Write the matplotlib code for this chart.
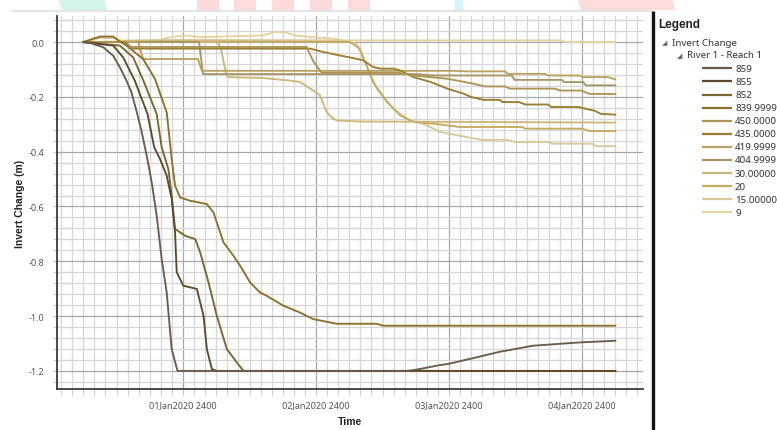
import matplotlib

matplotlib.use("Agg")
import matplotlib.pyplot as plt
from matplotlib.patches import Polygon, Rectangle
from matplotlib.ticker import FixedLocator, MultipleLocator, FixedFormatter

# hours since 01Jan2020 0000 / invert change (m)
t_859 = [6, 7.5, 9.6, 11.4, 12.6, 13.8, 14.7, 15.6, 16.5, 17.4, 18.35, 19.25, 20.15, 21.05, 21.95, 23.0,
         64.4, 66, 68, 70, 72.2, 76, 81.2, 87.2, 95.6, 102]
v_859 = [0, -0.005, -0.019, -0.05, -0.092, -0.141, -0.184, -0.251, -0.324, -0.41, -0.512, -0.634, -0.792,
         -0.913, -1.12, -1.2, -1.2, -1.196, -1.188, -1.18, -1.173, -1.155, -1.13, -1.108, -1.096, -1.09]

t_855 = [6, 11.4, 13.2, 15.3, 17.6, 18.8, 19.85, 21.06, 21.96, 22.56, 22.86, 24.05, 26.5, 27.7, 28.3, 29.2,
         30.1, 102]
v_855 = [0, -0.013, -0.056, -0.141, -0.263, -0.384, -0.427, -0.488, -0.573, -0.695, -0.84, -0.889, -0.901,
         -0.999, -1.12, -1.193, -1.2, -1.2]

t_852 = [6, 12.6, 15.0, 16.85, 19.25, 20.15, 21.35, 21.96, 22.56, 24.4, 26.2, 27.1, 28.6, 30.1, 31.9, 33.7,
         34.9, 102]
v_852 = [0, -0.013, -0.056, -0.141, -0.263, -0.384, -0.463, -0.561, -0.682, -0.707, -0.719, -0.768, -0.877,
         -0.999, -1.12, -1.169, -1.2, -1.2]

t_840 = [6, 7.8, 9.0, 11.4, 12.3, 13.8, 16.8, 18.95, 21.06, 21.96, 22.56, 23.46, 25.26, 28.3, 29.5, 31.3,
         33.1, 34.3, 36.1, 37.9, 39.1, 42.1, 45.1, 47.5, 50.5, 51.7, 58.95, 60.1, 102]
v_840 = [0, 0.012, 0.02, 0.02, 0.006, -0.013, -0.062, -0.135, -0.257, -0.427, -0.524, -0.567, -0.579, -0.591,
         -0.622, -0.731, -0.78, -0.816, -0.877, -0.914, -0.926, -0.962, -0.987, -1.011, -1.023, -1.028,
         -1.028, -1.035, -1.035]

t_450 = [6, 13, 14.5, 46.3, 47.5, 49, 63, 65.6, 71.7, 75.9, 78.5, 82.1, 83, 91.1, 92, 95.9, 97.3, 102]
v_450 = [0, 0, -0.018, -0.018, -0.07, -0.112, -0.112, -0.122, -0.134, -0.15, -0.162, -0.162, -0.17, -0.17,
         -0.177, -0.177, -0.189, -0.19]

t_435 = [6, 13.5, 15, 47, 49, 52.3, 55.3, 56.5, 58.3, 59.6, 62, 63.2, 65.6, 68.7, 71.7, 74.7, 75.9, 78.2,
         81.2, 81.6, 84.6, 85.8, 89.9, 90.4, 95.3, 98.3, 99.4, 102]
v_435 = [0, 0, -0.024, -0.024, -0.035, -0.049, -0.061, -0.067, -0.091, -0.097, -0.097, -0.104, -0.128, -0.146,
         -0.17, -0.189, -0.2, -0.211, -0.211, -0.219, -0.219, -0.228, -0.228, -0.237, -0.237, -0.251, -0.262,
         -0.265]

t_420 = [6, 15.9, 16.8, 26.7, 27.4, 73.3, 75, 82.1, 82.6, 89.3, 89.8, 95.6, 96.1, 100.7, 102]
v_420 = [0, 0, -0.062, -0.062, -0.105, -0.105, -0.107, -0.107, -0.116, -0.116, -0.122, -0.122, -0.128,
         -0.128, -0.136]

t_405 = [6, 26.9, 27.6, 66.2, 69.2, 83.3, 83.8, 92.3, 92.8, 96.2, 96.7, 102]
v_405 = [0, 0, -0.117, -0.117, -0.122, -0.122, -0.138, -0.138, -0.146, -0.146, -0.158, -0.158]

t_30 = [6, 30.3, 30.9, 31.8, 32.1, 38.2, 43.0, 45.1, 47.5, 48.7, 49.9, 50.8, 51.7, 55.9, 102]
v_30 = [0, 0, -0.03, -0.12, -0.128, -0.131, -0.14, -0.146, -0.177, -0.194, -0.255, -0.275, -0.286, -0.29,
        -0.294]

t_20 = [6, 20, 54.1, 55.9, 58.3, 60.8, 63.2, 65.6, 69.2, 74.0, 85.2, 85.7, 96.0, 97.4, 102]
v_20 = [0, 0.003, 0.0, -0.024, -0.146, -0.219, -0.268, -0.292, -0.298, -0.31, -0.31, -0.316, -0.316, -0.325,
        -0.325]

t_15 = [6, 9, 11.5, 13, 20, 52.9, 55.3, 57.1, 58.95, 61.95, 64.4, 68.0, 70.4, 75.2, 78.0, 82.6, 83.9, 89.9,
        90.6, 97.8, 98.5, 102]
v_15 = [0, 0.015, 0.015, 0.005, 0.008, 0.006, -0.006, -0.085, -0.17, -0.243, -0.28, -0.304, -0.328, -0.347,
        -0.357, -0.357, -0.365, -0.365, -0.371, -0.371, -0.38, -0.38]

t_9 = [6, 14, 18.6, 21.65, 24.7, 27.1, 38.2, 40.6, 42.4, 44.2, 47.2, 51.4, 52.3, 92.3, 92.9, 102]
v_9 = [0, 0, 0, 0.018, 0.024, 0.018, 0.024, 0.036, 0.036, 0.024, 0.018, 0.012, 0.006, 0.006, 0, 0]

SERIES_NAMES = ["859", "855", "852", "839.9999", "450.0000", "435.0000",
                "419.9999", "404.9999", "30.00000", "20", "15.00000", "9"]
SERIES_COLORS = ["#6b5b4b", "#5e4a2a", "#7b6530", "#8d6f2c", "#ac9452", "#9b7e33",
                 "#b8a262", "#a99465", "#cdb67a", "#c6aa60", "#d9c89a", "#e4d39e"]
SERIES = [(t_859, v_859), (t_855, v_855), (t_852, v_852), (t_840, v_840), (t_450, v_450), (t_435, v_435),
          (t_420, v_420), (t_405, v_405), (t_30, v_30), (t_20, v_20), (t_15, v_15), (t_9, v_9)]

DAY_TICKS = [24, 48, 72, 96]
DAY_LABELS = ["01Jan2020 2400", "02Jan2020 2400", "03Jan2020 2400", "04Jan2020 2400"]
Y_TICKS = [0.0, -0.2, -0.4, -0.6, -0.8, -1.0, -1.2]
Y_LABELS = ["0.0", "-0.2", "-0.4", "-0.6", "-0.8", "-1.0", "-1.2"]

W, H = 777, 431
FONT = ["Noto Sans", "DejaVu Sans"]
BOLD = ["Liberation Sans", "DejaVu Sans"]
TEXT = "#333333"

plt.rcParams["font.family"] = FONT


def draw_page(fig):
    # full-figure canvas in pixel units for the screenshot chrome and the legend panel
    canvas = fig.add_axes([0, 0, 1, 1], zorder=0)
    canvas.set_xlim(0, W)
    canvas.set_ylim(H, 0)
    canvas.axis("off")

    canvas.add_patch(Polygon([(58, 0), (104, 0), (107, 11), (62, 11)], color="#d3f5e9", lw=0))
    for x0 in (197, 234, 272, 310, 348):
        canvas.add_patch(Rectangle((x0, 0), 22, 11, color="#fddbdb", lw=0))
    canvas.add_patch(Rectangle((455, 0), 8, 11, color="#d6f3fb", lw=0))
    canvas.add_patch(Polygon([(577, 0), (672, 0), (675, 11), (581, 11)], color="#fddbdb", lw=0))
    canvas.plot([12, 651], [12, 12], color="#e4e4e4", lw=1.5)

    canvas.plot([653, 653], [12, H], color="#111111", lw=2.4, solid_capstyle="butt")
    canvas.text(658, 25, "Legend", fontsize=8.5, fontweight="bold", family=BOLD, color="#222222", va="center")
    canvas.text(665, 43, "\u25e2", fontsize=5, color="#666666", va="center", ha="center", family="DejaVu Sans")
    canvas.text(672, 43, "Invert Change", fontsize=7, color=TEXT, va="center")
    canvas.text(680, 56, "\u25e2", fontsize=5, color="#666666", va="center", ha="center", family="DejaVu Sans")
    canvas.text(687, 56, "River 1 - Reach 1", fontsize=7, color=TEXT, va="center")

    for i, (name, color) in enumerate(zip(SERIES_NAMES, SERIES_COLORS)):
        y = 69.3 + 13.1 * i
        canvas.plot([702, 732], [y, y], color=color, lw=1.6, solid_capstyle="butt")
        canvas.text(735, y, name, fontsize=7, color=TEXT, va="center")


def draw_chart(fig):
    ax = fig.add_axes([57 / W, 1 - 390 / H, (643 - 57) / W, (390 - 17) / H], zorder=1)
    ax.set_xlim(1.26, 107.0)
    ax.set_ylim(-1.266, 0.095)

    for (t, v), color in reversed(list(zip(SERIES, SERIES_COLORS))):
        ax.plot(t, v, color=color, lw=1.35, solid_joinstyle="round")

    ax.xaxis.set_major_locator(FixedLocator(DAY_TICKS))
    ax.xaxis.set_major_formatter(FixedFormatter(DAY_LABELS))
    ax.xaxis.set_minor_locator(MultipleLocator(2))
    ax.yaxis.set_major_locator(FixedLocator(Y_TICKS))
    ax.yaxis.set_major_formatter(FixedFormatter(Y_LABELS))
    ax.yaxis.set_minor_locator(MultipleLocator(0.04))

    ax.set_axisbelow(True)
    ax.grid(which="major", color="#a8a8a8", lw=0.9)
    ax.grid(which="minor", color="#d6d6d6", lw=0.9)

    for side in ("top", "right"):
        ax.spines[side].set_visible(False)
    for side in ("left", "bottom"):
        ax.spines[side].set_color("#3c3c3c")
        ax.spines[side].set_linewidth(1.3)

    ax.tick_params(axis="both", which="both", color="#c4c4c4", labelsize=6.5, labelcolor="#555555")
    ax.tick_params(axis="x", which="both", length=4, pad=4)
    ax.tick_params(axis="y", which="both", length=3, pad=6)

    ax.set_xlabel("Time", fontsize=7.5, fontweight="bold", family=BOLD, color="#222222", labelpad=5)
    ax.set_ylabel("Invert Change (m)", fontsize=7.5, fontweight="bold", family=BOLD, color="#222222",
                  labelpad=3)
    return ax


fig = plt.figure(figsize=(W / 100, H / 100), dpi=100)
fig.patch.set_facecolor("white")
draw_page(fig)
draw_chart(fig)
fig.savefig("out.png", dpi=100, facecolor="white")
plt.close(fig)
